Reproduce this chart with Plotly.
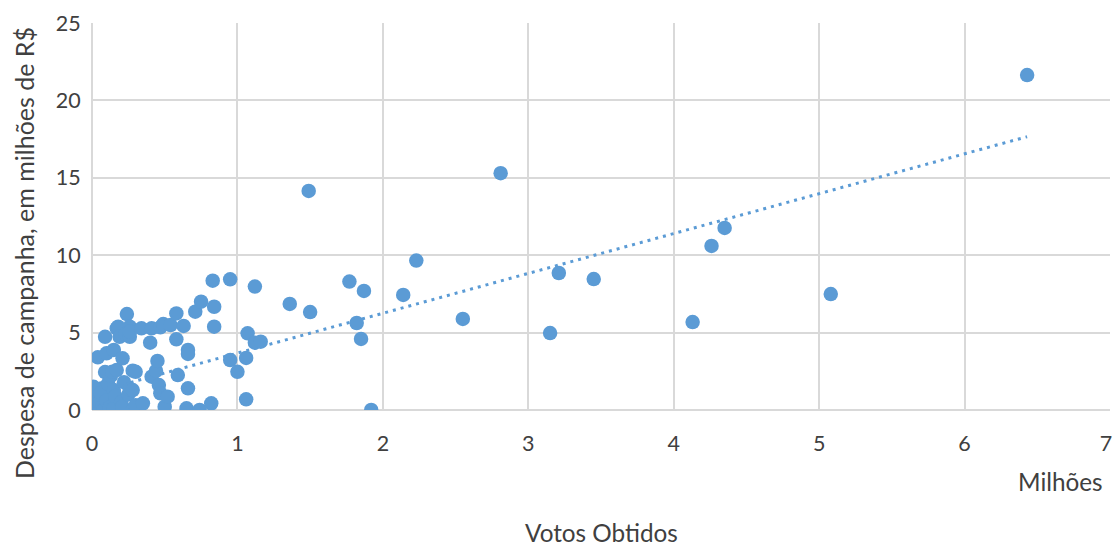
import numpy as np
import plotly.graph_objects as go

# Votes obtained (millions) and campaign spending (millions of R$) per candidate
votos = [
    # low-vote candidates packed near the origin
    0.00, 0.00, 0.01, 0.01, 0.01, 0.02, 0.02, 0.02, 0.02, 0.03,
    0.03, 0.03, 0.03, 0.04, 0.04, 0.04, 0.04, 0.05, 0.05, 0.05,
    0.05, 0.06, 0.06, 0.06, 0.07, 0.07, 0.07, 0.08, 0.08, 0.08,
    0.09, 0.09, 0.10, 0.10, 0.11, 0.11, 0.12, 0.12, 0.13, 0.14,
    0.00, 0.01, 0.01, 0.02, 0.02, 0.03, 0.03, 0.04, 0.04, 0.05,
    0.05, 0.06, 0.06, 0.07, 0.08, 0.09, 0.10, 0.01, 0.02, 0.03,
    0.00, 0.01, 0.02, 0.03, 0.04, 0.05, 0.06, 0.02, 0.03, 0.04,
    0.01, 0.02, 0.00, 0.01, 0.03,
    # up to ~350 thousand votes
    0.00, 0.01, 0.02, 0.01, 0.04, 0.03, 0.05, 0.06, 0.07, 0.08,
    0.09, 0.09, 0.10, 0.10, 0.11, 0.12, 0.13, 0.14, 0.15, 0.15,
    0.15, 0.16, 0.17, 0.17, 0.18, 0.19, 0.20, 0.21, 0.21, 0.22,
    0.23, 0.24, 0.25, 0.26, 0.26, 0.26, 0.26, 0.28, 0.28, 0.28,
    0.30, 0.30, 0.34, 0.35,
    # 0.4 to 1.2 million
    0.40, 0.41, 0.41, 0.44, 0.45, 0.46, 0.47, 0.47, 0.49, 0.50,
    0.52, 0.54, 0.58, 0.58, 0.59, 0.63, 0.65, 0.66, 0.66, 0.66,
    0.71, 0.74, 0.75, 0.82, 0.83, 0.84, 0.84, 0.95, 0.95, 1.00,
    1.06, 1.06, 1.07, 1.12, 1.12, 1.16,
    # most voted
    1.36, 1.49, 1.50, 1.77, 1.82, 1.85, 1.87, 1.92, 2.14, 2.23,
    2.55, 2.81, 3.15, 3.21, 3.45, 4.13, 4.26, 4.35, 5.08, 6.43,
]
despesa = [
    0.00, 0.10, 0.00, 0.20, 0.50, 0.05, 0.30, 0.80, 0.00, 0.15,
    0.40, 1.00, 0.00, 0.25, 0.60, 0.10, 1.20, 0.00, 0.35, 0.70,
    0.05, 0.20, 0.90, 0.00, 0.45, 0.10, 1.40, 0.30, 0.00, 0.65,
    0.15, 1.10, 0.40, 0.00, 0.80, 0.20, 0.50, 0.05, 0.30, 0.60,
    0.20, 0.00, 0.65, 0.40, 0.10, 0.00, 0.55, 0.30, 0.90, 0.00,
    1.30, 0.15, 0.50, 0.00, 0.25, 0.70, 0.10, 0.35, 1.20, 0.00,
    0.80, 0.00, 0.15, 0.45, 0.00, 0.20, 0.00, 0.60, 0.10, 0.40,
    0.00, 0.25, 0.45, 0.70, 0.00,
    0.05, 0.30, 0.80, 1.50, 3.40, 0.10, 0.50, 1.10, 0.20, 0.00,
    2.45, 4.73, 3.66, 0.60, 1.70, 0.15, 2.20, 2.47, 1.29, 0.10,
    3.88, 0.90, 2.58, 5.28, 5.38, 4.73, 0.50, 3.34, 0.21, 1.80,
    4.90, 6.20, 1.00, 5.38, 4.73, 1.34, 5.06, 2.54, 0.00, 1.29,
    2.47, 0.30, 5.28, 0.43,
    4.35, 5.28, 2.15, 2.52, 3.17, 1.61, 1.08, 5.34, 5.55, 0.21,
    0.86, 5.49, 6.24, 4.57, 2.26, 5.43, 0.11, 3.88, 3.62, 1.40,
    6.35, 0.00, 7.00, 0.43, 8.35, 6.67, 5.38, 8.44, 3.23, 2.47,
    3.36, 0.69, 4.95, 7.97, 4.35, 4.41,
    6.85, 14.15, 6.33, 8.30, 5.62, 4.59, 7.69, 0.00, 7.43, 9.65,
    5.88, 15.30, 4.97, 8.85, 8.46, 5.68, 10.60, 11.76, 7.49, 21.64,
]

x_ticks = [0, 1, 2, 3, 4, 5, 6]
x_last_tick = [7]
y_ticks = [0, 5, 10, 15, 20, 25]

BLUE = "#5B9BD5"
GRID = "#D9D9D9"
TEXT = "#404040"
FONT = "Lato"

# Linear trendline fitted to the data, spanning the observed vote range
vx = np.array(votos)
vy = np.array(despesa)
slope, intercept = np.polyfit(vx, vy, 1)
trend_x = np.linspace(vx.min(), vx.max(), 2)
trend_y = slope * trend_x + intercept

fig = go.Figure()
fig.add_trace(go.Scatter(
    x=trend_x, y=trend_y, mode="lines",
    line=dict(color=BLUE, width=3, dash="3px,5px"),
    hoverinfo="skip", showlegend=False,
))
fig.add_trace(go.Scatter(
    x=votos, y=despesa, mode="markers",
    marker=dict(color=BLUE, size=14.5, line=dict(width=0)),
    showlegend=False,
))
# empty trace so the overlaid x axis (carrying the edge tick) gets drawn
fig.add_trace(go.Scatter(x=[None], y=[None], xaxis="x2", yaxis="y",
                         mode="markers", hoverinfo="skip", showlegend=False))

W, H = 1114, 547
L, R, T, B = 92, 4, 23, 137
pw, ph = W - L - R, H - T - B


def px_to_paper(px, py):
    return (px - L) / pw, (H - B - py) / ph


tick_font = dict(family=FONT, size=21.5, color=TEXT)
axis_common = dict(
    showgrid=True, gridcolor=GRID, gridwidth=1.5,
    zeroline=True, zerolinecolor=GRID, zerolinewidth=1.5,
    showline=False, ticks="outside", tickcolor="rgba(0,0,0,0)",
    ticklabeloverflow="allow", automargin=False, tickfont=tick_font,
)

fig.update_layout(
    width=W, height=H,
    margin=dict(l=L, r=R, t=T, b=B, pad=0, autoexpand=False),
    paper_bgcolor="white", plot_bgcolor="white",
    xaxis=dict(range=[0, 7], tickvals=x_ticks, ticklen=14, **axis_common),
    # the last x tick sits on the right edge; its label is nudged inward
    xaxis2=dict(range=[0, 7], tickvals=x_last_tick, ticklen=14, overlaying="x",
                side="bottom", anchor="y", showgrid=True, gridcolor=GRID,
                gridwidth=1.5, zeroline=False, showline=False, ticks="outside",
                tickcolor="rgba(0,0,0,0)", automargin=False,
                ticklabeloverflow="allow", ticklabelshift=-4,
                tickfont=tick_font),
    yaxis=dict(range=[0, 25], tickvals=y_ticks, ticklen=6, **axis_common),
    font=dict(family=FONT, color=TEXT),
)

for label, (cx, cy), angle, size in [
    ("Milhões", (1060, 482), 0, 24.3),
    ("Votos Obtidos", (601, 532), 0, 24.3),
    ("Despesa de campanha, em milhões de R$", (24, 253), -90, 25),
]:
    ax, ay = px_to_paper(cx, cy)
    fig.add_annotation(text=label, x=ax, y=ay, xref="paper", yref="paper",
                       xanchor="center", yanchor="middle", textangle=angle,
                       showarrow=False, borderpad=0,
                       font=dict(family=FONT, size=size, color=TEXT))

fig.write_html("out.html")
